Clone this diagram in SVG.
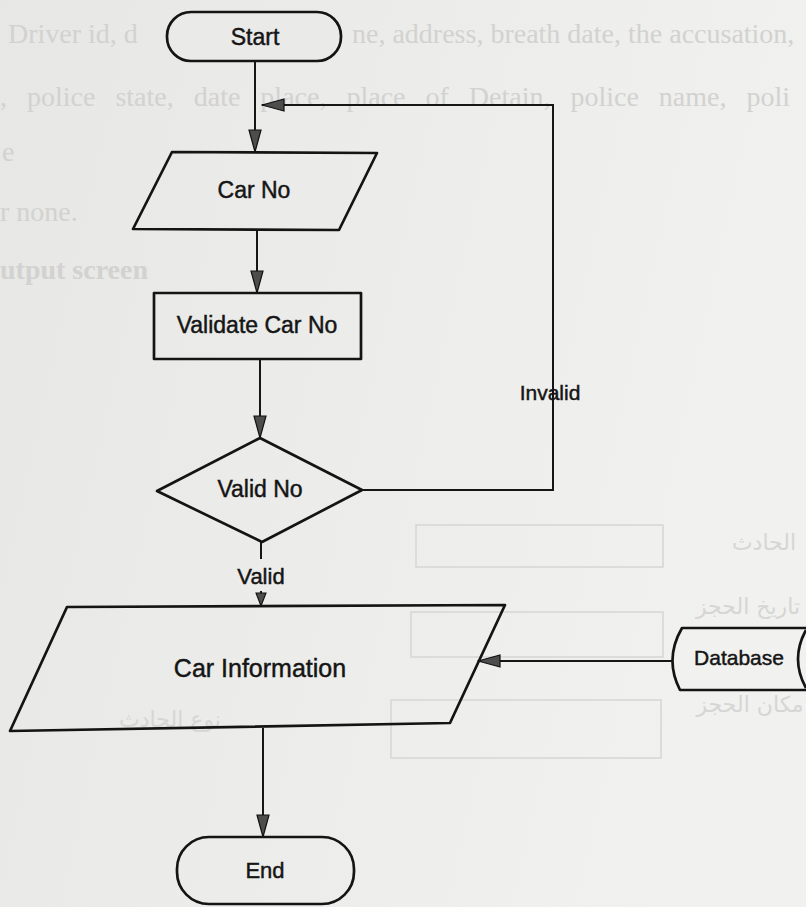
<svg xmlns="http://www.w3.org/2000/svg" width="806" height="907" viewBox="0 0 806 907">
  <defs>
    <linearGradient id="paper" x1="0" y1="0" x2="1" y2="0.25">
      <stop offset="0" stop-color="#e7e7e5"/>
      <stop offset="1" stop-color="#f1f1ef"/>
    </linearGradient>
    <marker id="arrow" markerUnits="userSpaceOnUse" markerWidth="24" markerHeight="14" viewBox="0 0 24 14" refX="23" refY="7" orient="auto">
      <path d="M1,1 L23,7 L1,13 Z" fill="#4d4d4d" stroke="#111" stroke-width="1.2"/>
    </marker>
    <marker id="arrow-sm" markerUnits="userSpaceOnUse" markerWidth="15" markerHeight="12" viewBox="0 0 15 12" refX="14" refY="6" orient="auto">
      <path d="M1,1 L14,6 L1,11 Z" fill="#4d4d4d" stroke="#111" stroke-width="1.1"/>
    </marker>
  </defs>
  <style>
    .shape { fill: none; stroke: #141414; stroke-width: 2.7; stroke-linejoin: round; }
    .wire { fill: none; stroke: #161616; stroke-width: 2; }
    .lbl { font-family: "Liberation Sans", Arial, sans-serif; fill: #151515; stroke: #151515; stroke-width: 0.45; text-anchor: middle; }
    .ghost { font-family: "Liberation Serif", "Times New Roman", serif; fill: #d2d2d0; font-size: 28px; }
    .ghost-ar { font-family: "DejaVu Sans", "Noto Sans", sans-serif; fill: #d6d6d4; font-size: 22px; text-anchor: middle; }
    .ghost-box { fill: none; stroke: #d8d8d6; stroke-width: 1.6; }
  </style>

  <!-- page -->
  <rect x="0" y="0" width="806" height="907" fill="url(#paper)"/>

  <!-- faint text and boxes showing through from the other side of the sheet -->
  <g id="backdrop">
    <text class="ghost" x="8" y="43">Driver id, d</text>
    <text class="ghost" x="352" y="43">ne, address, breath date, the accusation,</text>
    <text class="ghost" x="0" y="106" word-spacing="13">, police state, date place, place of Detain, police name, poli</text>
    <text class="ghost" x="2" y="161">e</text>
    <text class="ghost" x="0" y="221">r none.</text>
    <text class="ghost" x="0" y="279" font-weight="bold">utput screen</text>
    <rect class="ghost-box" x="416" y="525" width="247" height="42"/>
    <rect class="ghost-box" x="411" y="612" width="252" height="45"/>
    <rect class="ghost-box" x="391" y="700" width="270" height="58"/>
    <text class="ghost-ar" x="764" y="550">الحادث</text>
    <text class="ghost-ar" x="748" y="614">تاريخ الحجز</text>
    <text class="ghost-ar" x="750" y="712">مكان الحجز</text>
    <text class="ghost-ar" x="170" y="727">نوع الحادث</text>
  </g>

  <!-- connectors -->
  <g id="connectors">
    <path class="wire" d="M255 61 V152" marker-end="url(#arrow)"/>
    <path class="wire" d="M257 229 V293" marker-end="url(#arrow)"/>
    <path class="wire" d="M260 359 V438" marker-end="url(#arrow)"/>
    <path class="wire" d="M261 542 V559"/>
    <path class="wire" d="M261 591 V606" marker-end="url(#arrow-sm)"/>
    <path class="wire" d="M362 490 H553 V379" stroke-width="2.6"/>
    <path class="wire" d="M553 407 V105 H262" marker-end="url(#arrow)"/>
    <path class="wire" d="M673 661 H478" stroke-width="2.4" marker-end="url(#arrow)"/>
    <path class="wire" d="M263 728 V837" stroke-width="2.3" marker-end="url(#arrow)"/>
    <text class="lbl" x="550" y="400" font-size="21">Invalid</text>
    <text class="lbl" x="261" y="584" font-size="22">Valid</text>
  </g>

  <g id="start">
    <rect class="shape" x="167" y="12" width="174" height="49" rx="24" style="fill:#eaeae8"/>
    <text class="lbl" x="255" y="45" font-size="23">Start</text>
  </g>

  <g id="car-no">
    <polygon class="shape" points="172,152 377,153 339,230 133,229"/>
    <text class="lbl" x="254" y="198" font-size="23">Car No</text>
  </g>

  <g id="validate">
    <rect class="shape" x="154" y="293" width="207" height="66"/>
    <text class="lbl" x="257" y="333" font-size="23">Validate Car No</text>
  </g>

  <g id="valid-no">
    <polygon class="shape" points="260,438 362,490 262,542 157,491"/>
    <text class="lbl" x="260" y="497" font-size="23">Valid No</text>
  </g>

  <g id="car-information">
    <polygon class="shape" points="67,607 505,605 450,723 10,731"/>
    <text class="lbl" x="260" y="677" font-size="25">Car Information</text>
  </g>

  <g id="database">
    <path class="shape" d="M808 628 H682 Q664 659 680 690 H808"/>
    <path class="shape" d="M806 630 Q790 659 806 688"/>
    <text class="lbl" x="739" y="665" font-size="21">Database</text>
  </g>

  <g id="end">
    <rect class="shape" x="177" y="837" width="177" height="67" rx="32"/>
    <text class="lbl" x="265" y="878" font-size="22">End</text>
  </g>
</svg>
